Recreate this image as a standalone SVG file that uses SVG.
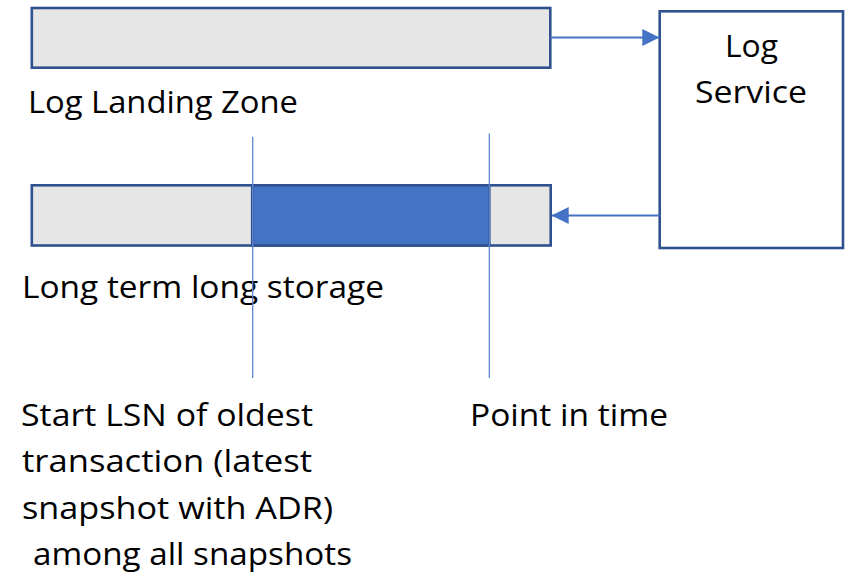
<svg xmlns="http://www.w3.org/2000/svg" width="853" height="576" viewBox="0 0 853 576">
  <style>
    .bar { fill: #E6E6E6; stroke: #2F528F; stroke-width: 2.6; }
    .range { fill: #4472C4; stroke: #2F528F; stroke-width: 2.6; }
    .box { fill: #FFFFFF; stroke: #2F528F; stroke-width: 2.6; }
    .flow { fill: none; stroke: #4472C4; stroke-width: 2; }
    .tick { fill: none; stroke: #5E87D0; stroke-width: 1.3; }
    .lbl { font-family: "Open Sans", "Noto Sans", "Liberation Sans", sans-serif; font-size: 31px; fill: #000000; }
  </style>
  <defs>
    <marker id="arrow" markerUnits="userSpaceOnUse" markerWidth="17" markerHeight="17" viewBox="0 0 17 17" refX="17" refY="8.5" orient="auto">
      <path d="M0,0 L17,8.5 L0,17 Z" fill="#4472C4"/>
    </marker>
  </defs>

  <!-- Log landing zone bar -->
  <g id="landing-zone">
    <rect class="bar" x="31.8" y="8" width="518.5" height="59.7"/>
    <text class="lbl" x="28" y="113" textLength="270" lengthAdjust="spacingAndGlyphs">Log Landing Zone</text>
  </g>

  <!-- Long-term storage bar with the retained range -->
  <g id="long-term-storage">
    <rect class="bar" x="31.8" y="185.3" width="518.9" height="60.2"/>
    <rect class="range" x="252.2" y="185.3" width="237.1" height="60.2"/>
    <text class="lbl" x="22" y="298" textLength="362" lengthAdjust="spacingAndGlyphs">Long term long storage</text>
  </g>

  <!-- Log service -->
  <g id="log-service">
    <rect class="box" x="659.7" y="11.3" width="183.3" height="236.7"/>
    <text class="lbl" x="725" y="57" textLength="53" lengthAdjust="spacingAndGlyphs">Log</text>
    <text class="lbl" x="695" y="103" textLength="112" lengthAdjust="spacingAndGlyphs">Service</text>
  </g>

  <!-- Arrows between the bars and the service -->
  <g id="connectors">
    <line class="flow" x1="550.3" y1="37.5" x2="659.3" y2="37.5" marker-end="url(#arrow)"/>
    <line class="flow" x1="659.7" y1="215.5" x2="551.7" y2="215.5" marker-end="url(#arrow)"/>
  </g>

  <!-- Vertical reference lines -->
  <g id="reference-lines">
    <line class="tick" x1="252.7" y1="136.7" x2="252.7" y2="378"/>
    <line class="tick" x1="489.3" y1="133.5" x2="489.3" y2="378"/>
  </g>

  <!-- Captions below the reference lines -->
  <g id="start-lsn-caption">
    <text class="lbl" x="21" y="426" textLength="292" lengthAdjust="spacingAndGlyphs">Start LSN of oldest</text>
    <text class="lbl" x="22" y="472" textLength="290" lengthAdjust="spacingAndGlyphs">transaction (latest</text>
    <text class="lbl" x="22" y="519" textLength="311" lengthAdjust="spacingAndGlyphs">snapshot with ADR)</text>
    <text class="lbl" x="33" y="565" textLength="319" lengthAdjust="spacingAndGlyphs">among all snapshots</text>
  </g>
  <g id="point-in-time-caption">
    <text class="lbl" x="470" y="426" textLength="198" lengthAdjust="spacingAndGlyphs">Point in time</text>
  </g>
</svg>
